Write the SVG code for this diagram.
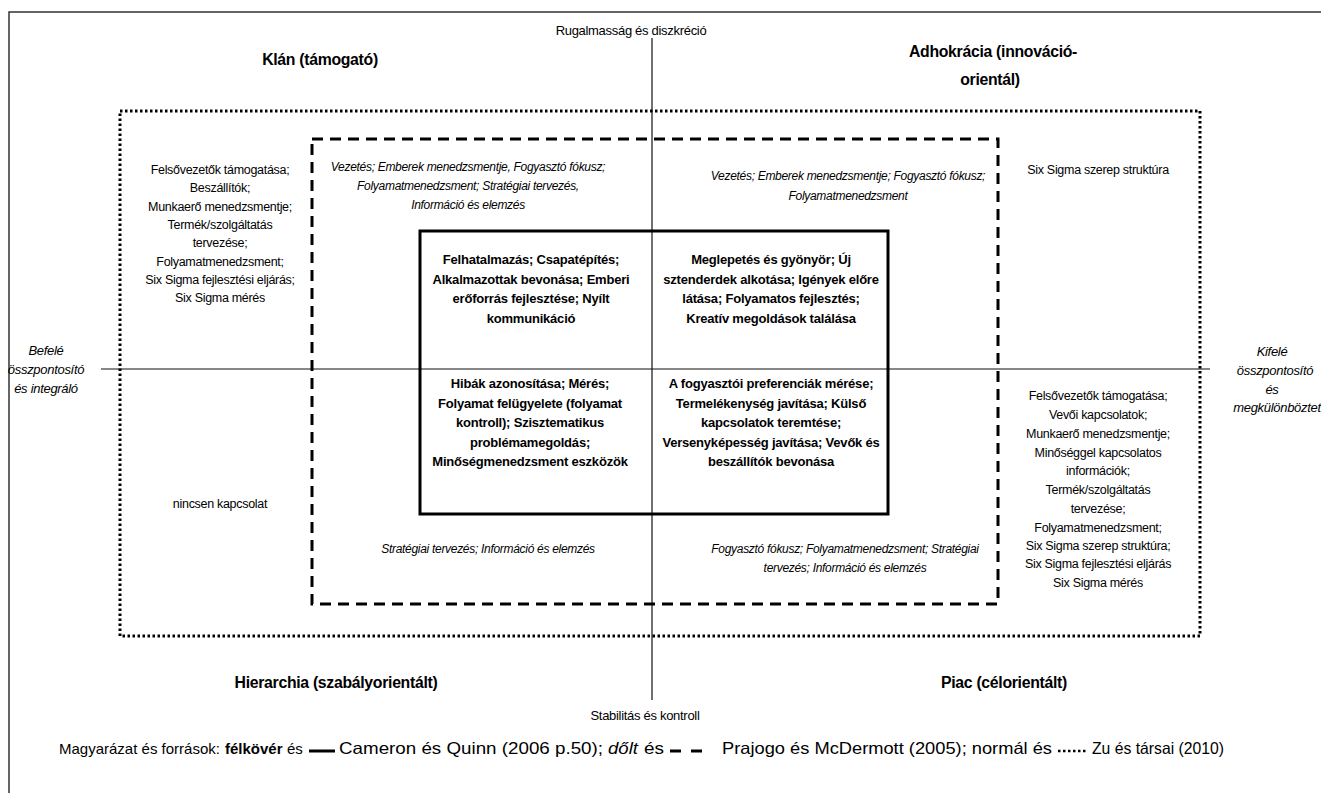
<svg xmlns="http://www.w3.org/2000/svg" width="1321" height="793" viewBox="0 0 1321 793">
<style>
text{font-family:"Liberation Sans",Arial,sans-serif;fill:#000;text-anchor:middle}
.n{font-size:12.5px;letter-spacing:-0.3px}
.i{font-size:12px;font-style:italic;letter-spacing:-0.3px}
.b{font-size:13px;font-weight:bold;letter-spacing:-0.2px}
.t{font-size:15.8px;font-weight:bold;letter-spacing:-0.3px}
.a{font-size:13px;letter-spacing:-0.3px}
.ai{font-size:13px;font-style:italic;letter-spacing:-0.3px}
.lg{font-size:16.5px;text-anchor:start}
.lg1{font-size:15px;text-anchor:start}
.frame{fill:none;stroke:#333;stroke-width:1.5}
.axis{fill:none;stroke:#111;stroke-width:1.2}
.dot{fill:none;stroke:#000;stroke-width:3;stroke-dasharray:2.5 2.5}
.dash{fill:none;stroke:#000;stroke-width:3;stroke-dasharray:11 7}
.solid{fill:none;stroke:#000;stroke-width:3}
</style>
<rect width="1321" height="793" fill="#fff"/>
<path class="frame" d="M9,793 V12 H1321"/>

<g id="connectors">
<line class="axis" x1="652" y1="38" x2="652" y2="700"/>
<line class="axis" x1="101" y1="369" x2="1210" y2="369"/>
</g>

<g id="zu-frame"><rect class="dot" x="120" y="111" width="1080" height="525"/></g>
<g id="prajogo-frame"><rect class="dash" x="312" y="139" width="686" height="465"/></g>
<g id="cameron-frame"><rect class="solid" x="420" y="231" width="468" height="283"/></g>

<g id="axis-labels">
<text class="a" x="631" y="35">Rugalmasság és diszkréció</text>
<text class="a" x="645" y="720">Stabilitás és kontroll</text>
<text class="ai" x="46" y="355">Befelé</text>
<text class="ai" x="46" y="374">összpontosító</text>
<text class="ai" x="46" y="393">és integráló</text>
<text class="ai" x="1272" y="356">Kifelé</text>
<text class="ai" x="1275" y="375">összpontosító</text>
<text class="ai" x="1272" y="394">és</text>
<text class="ai" x="1277" y="412">megkülönböztet</text>
</g>

<g id="quadrant-titles">
<text class="t" x="320" y="65">Klán  (támogató)</text>
<text class="t" x="993" y="57">Adhokrácia (innováció-</text>
<text class="t" x="990" y="85">orientál)</text>
<text class="t" x="336" y="688">Hierarchia (szabályorientált)</text>
<text class="t" x="1004" y="688">Piac (célorientált)</text>
</g>

<g id="zu-left">
<text class="n" x="220" y="174">Felsővezetők támogatása;</text>
<text class="n" x="220" y="192">Beszállítók;</text>
<text class="n" x="220" y="211">Munkaerő menedzsmentje;</text>
<text class="n" x="220" y="229">Termék/szolgáltatás</text>
<text class="n" x="220" y="247">tervezése;</text>
<text class="n" x="220" y="266">Folyamatmenedzsment;</text>
<text class="n" x="220" y="284">Six Sigma fejlesztési eljárás;</text>
<text class="n" x="220" y="302">Six Sigma mérés</text>
</g>
<g id="zu-left-bottom"><text class="n" x="220" y="508">nincsen kapcsolat</text></g>
<g id="zu-right-top"><text class="n" x="1098" y="174">Six Sigma  szerep struktúra</text></g>
<g id="zu-right">
<text class="n" x="1098" y="400">Felsővezetők támogatása;</text>
<text class="n" x="1098" y="419">Vevői kapcsolatok;</text>
<text class="n" x="1098" y="438">Munkaerő menedzsmentje;</text>
<text class="n" x="1098" y="457">Minőséggel kapcsolatos</text>
<text class="n" x="1098" y="475">információk;</text>
<text class="n" x="1098" y="494">Termék/szolgáltatás</text>
<text class="n" x="1098" y="513">tervezése;</text>
<text class="n" x="1098" y="532">Folyamatmenedzsment;</text>
<text class="n" x="1098" y="550">Six Sigma szerep struktúra;</text>
<text class="n" x="1098" y="568">Six Sigma fejlesztési eljárás</text>
<text class="n" x="1098" y="587">Six Sigma mérés</text>
</g>

<g id="prajogo-tl">
<text class="i" x="468" y="171">Vezetés; Emberek menedzsmentje, Fogyasztó fókusz;</text>
<text class="i" x="468" y="190">Folyamatmenedzsment; Stratégiai tervezés,</text>
<text class="i" x="468" y="209">Információ és elemzés</text>
</g>
<g id="prajogo-tr">
<text class="i" x="848" y="180">Vezetés; Emberek menedzsmentje; Fogyasztó fókusz;</text>
<text class="i" x="848" y="200">Folyamatmenedzsment</text>
</g>
<g id="prajogo-bl"><text class="i" x="488" y="553">Stratégiai tervezés; Információ és elemzés</text></g>
<g id="prajogo-br">
<text class="i" x="845" y="553">Fogyasztó fókusz; Folyamatmenedzsment; Stratégiai</text>
<text class="i" x="845" y="572">tervezés; Információ és elemzés</text>
</g>

<g id="cameron-tl">
<text class="b" x="531" y="264">Felhatalmazás; Csapatépítés;</text>
<text class="b" x="531" y="284">Alkalmazottak bevonása; Emberi</text>
<text class="b" x="531" y="303">erőforrás fejlesztése; Nyílt</text>
<text class="b" x="531" y="323">kommunikáció</text>
</g>
<g id="cameron-tr">
<text class="b" x="771" y="264">Meglepetés és gyönyör; Új</text>
<text class="b" x="771" y="284">sztenderdek alkotása; Igények előre</text>
<text class="b" x="771" y="303">látása; Folyamatos fejlesztés;</text>
<text class="b" x="771" y="323">Kreatív megoldások találása</text>
</g>
<g id="cameron-bl">
<text class="b" x="530" y="388">Hibák azonosítása; Mérés;</text>
<text class="b" x="530" y="408">Folyamat felügyelete (folyamat</text>
<text class="b" x="530" y="427">kontroll); Szisztematikus</text>
<text class="b" x="530" y="447">problémamegoldás;</text>
<text class="b" x="530" y="466">Minőségmenedzsment eszközök</text>
</g>
<g id="cameron-br">
<text class="b" x="771" y="388">A fogyasztói preferenciák mérése;</text>
<text class="b" x="771" y="408">Termelékenység javítása; Külső</text>
<text class="b" x="771" y="427">kapcsolatok teremtése;</text>
<text class="b" x="771" y="447">Versenyképesség javítása; Vevők és</text>
<text class="b" x="771" y="466">beszállítók bevonása</text>
</g>

<g id="legend">
<text class="lg1" x="59" y="754">Magyarázat és források:</text>
<text class="lg1" x="225" y="754" font-weight="bold">félkövér</text>
<text class="lg1" x="287" y="754">és</text>
<line x1="309" y1="751" x2="335" y2="751" stroke="#000" stroke-width="3"/>
<text class="lg" x="339" y="754" textLength="264" lengthAdjust="spacingAndGlyphs">Cameron és Quinn (2006 p.50);</text>
<text class="lg" x="608" y="754" font-style="italic" textLength="30" lengthAdjust="spacingAndGlyphs">dőlt</text>
<text class="lg" x="644" y="754" textLength="20" lengthAdjust="spacingAndGlyphs">és</text>
<line x1="670" y1="751" x2="702" y2="751" stroke="#000" stroke-width="3" stroke-dasharray="11 10"/>
<text class="lg" x="722" y="754" textLength="330" lengthAdjust="spacingAndGlyphs">Prajogo és McDermott (2005); normál és</text>
<line x1="1058" y1="751" x2="1086" y2="751" stroke="#000" stroke-width="2.5" stroke-dasharray="2.5 2.5"/>
<text class="lg" x="1092" y="754" textLength="132" lengthAdjust="spacingAndGlyphs">Zu és társai (2010)</text>
</g>
</svg>
